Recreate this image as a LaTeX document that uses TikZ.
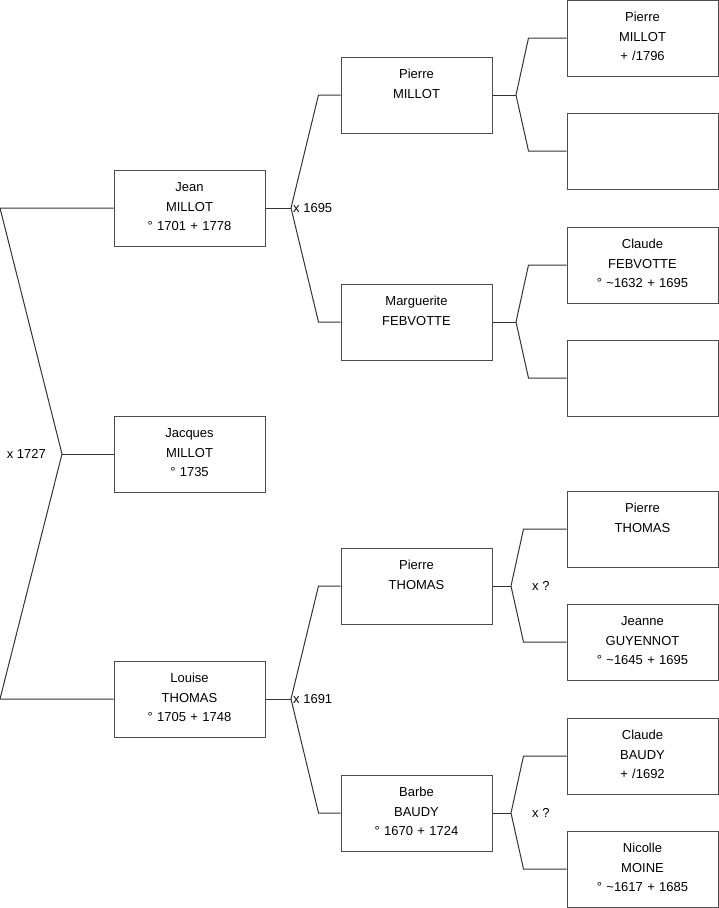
\documentclass[tikz,border=0pt]{standalone}
\usepackage{fontspec}
\setmainfont{Liberation Sans}
\usetikzlibrary{positioning}

\begin{document}
\begin{tikzpicture}[
  x=1pt, y=-1pt,
  % --- Style definitions ---
  person/.style={draw=black!70, line width=1pt, inner sep=0pt, text width=151pt,
                 text height=21.5pt, text depth=54.5pt, align=center,
                 font=\fontsize{13}{19.5}\selectfont},
  link/.style={line width=1pt, color=black!80},
  ann/.style={inner sep=0pt, font=\fontsize{13}{15}\selectfont},
]
\useasboundingbox (0,0) rectangle (719,908);

% ===== Nodes =====

% --- Column 1: child and parents ---
\node[person] (jean) at (189.5,208) {Jean\\MILLOT\\° 1701 + 1778};
\node[person, below=169pt of jean] (jacques) {Jacques\\MILLOT\\° 1735};
\node[person, below=168pt of jacques] (louise) {Louise\\THOMAS\\° 1705 + 1748};

% --- Column 2: grandparents ---
\node[person] (pmillot) at (416.5,95) {Pierre\\MILLOT};
\node[person] (mfebvotte) at (416.5,322) {Marguerite\\FEBVOTTE};
\node[person] (pthomas) at (416.5,586) {Pierre\\THOMAS};
\node[person] (bbaudy) at (416.5,813) {Barbe\\BAUDY\\° 1670 + 1724};

% --- Column 3: great-grandparents ---
\node[person] (pmillot2) at (642.5,38) {Pierre\\MILLOT\\+ /1796};
\node[person] (empty1) at (642.5,151) {};
\node[person] (cfebvotte) at (642.5,265) {Claude\\FEBVOTTE\\° \textasciitilde1632 + 1695};
\node[person] (empty2) at (642.5,378) {};
\node[person] (pthomas2) at (642.5,529) {Pierre\\THOMAS};
\node[person] (jguyennot) at (642.5,642) {Jeanne\\GUYENNOT\\° \textasciitilde1645 + 1695};
\node[person] (cbaudy) at (642.5,756) {Claude\\BAUDY\\+ /1692};
\node[person] (nmoine) at (642.5,869) {Nicolle\\MOINE\\° \textasciitilde1617 + 1685};

% ===== Union points =====
\coordinate (u0) at (62,454);
\coordinate (u0top) at (0,208);
\coordinate (u0bot) at (0,699);
\coordinate (u1) at (291,208);
\coordinate (u2) at (291,699);
\coordinate (u3) at (516,95);
\coordinate (u4) at (516,322);
\coordinate (u5) at (511,586);
\coordinate (u6) at (511,813);

% ===== Connectors =====

% Jacques to his parents
\draw[link] (jean.west) -- (u0top) -- (u0) -- (u0bot) -- (louise.west);
\draw[link] (u0) -- (jacques.west);

% Jean to his parents
\draw[link] (jean.east) -- (u1);
\draw[link] (pmillot.west) -- ++(-22,0) -- (u1) -- ([xshift=-22pt]mfebvotte.west) -- (mfebvotte.west);

% Louise to her parents
\draw[link] (louise.east) -- (u2);
\draw[link] (pthomas.west) -- ++(-22,0) -- (u2) -- ([xshift=-22pt]bbaudy.west) -- (bbaudy.west);

% Pierre MILLOT to his parents
\draw[link] (pmillot.east) -- (u3);
\draw[link] (pmillot2.west) -- ++(-38,0) -- (u3) -- ([xshift=-38pt]empty1.west) -- (empty1.west);

% Marguerite to her parents
\draw[link] (mfebvotte.east) -- (u4);
\draw[link] (cfebvotte.west) -- ++(-38,0) -- (u4) -- ([xshift=-38pt]empty2.west) -- (empty2.west);

% Pierre THOMAS to his parents
\draw[link] (pthomas.east) -- (u5);
\draw[link] (pthomas2.west) -- ++(-43,0) -- (u5) -- ([xshift=-43pt]jguyennot.west) -- (jguyennot.west);

% Barbe to her parents
\draw[link] (bbaudy.east) -- (u6);
\draw[link] (cbaudy.west) -- ++(-43,0) -- (u6) -- ([xshift=-43pt]nmoine.west) -- (nmoine.west);

% ===== Marriage labels =====
\node[ann, left=16pt of u0] (m0) {x 1727};
\node[ann, right=2pt of u1] (m1) {x 1695};
\node[ann, right=2pt of u2] (m2) {x 1691};
\node[ann, right=21pt of u5] (m5) {x ?};
\node[ann, right=21pt of u6] (m6) {x ?};

\end{tikzpicture}
\end{document}
